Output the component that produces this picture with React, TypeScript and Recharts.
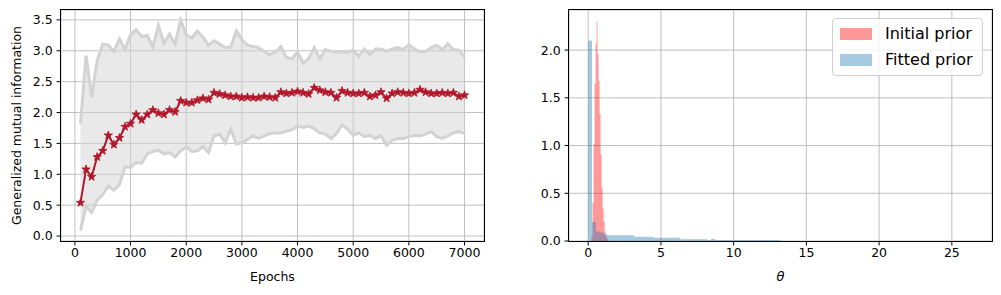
import React from 'react';
import { ComposedChart, Line, Area, XAxis, YAxis, CartesianGrid } from 'recharts';

// left panel: generalized mutual information over training
const epochs = [
  100, 200, 300, 400, 500, 600, 700, 800, 900, 1000,
  1100, 1200, 1300, 1400, 1500, 1600, 1700, 1800, 1900, 2000,
  2100, 2200, 2300, 2400, 2500, 2600, 2700, 2800, 2900, 3000,
  3100, 3200, 3300, 3400, 3500, 3600, 3700, 3800, 3900, 4000,
  4100, 4200, 4300, 4400, 4500, 4600, 4700, 4800, 4900, 5000,
  5100, 5200, 5300, 5400, 5500, 5600, 5700, 5800, 5900, 6000,
  6100, 6200, 6300, 6400, 6500, 6600, 6700, 6800, 6900, 7000,
];
const meanMI = [
  0.54, 1.08, 0.96, 1.28, 1.38, 1.63, 1.48, 1.59, 1.77, 1.82,
  1.97, 1.88, 1.97, 2.04, 1.99, 1.97, 2.04, 2.01, 2.19, 2.16,
  2.16, 2.2, 2.23, 2.21, 2.32, 2.3, 2.28, 2.26, 2.26, 2.24,
  2.25, 2.24, 2.24, 2.26, 2.25, 2.24, 2.33, 2.31, 2.32, 2.34,
  2.32, 2.3, 2.4, 2.36, 2.33, 2.32, 2.24, 2.35, 2.32, 2.31,
  2.31, 2.32, 2.26, 2.28, 2.33, 2.23, 2.31, 2.33, 2.32, 2.31,
  2.32, 2.37, 2.33, 2.31, 2.31, 2.32, 2.31, 2.32, 2.26, 2.28,
];
const upperMI = [
  1.82, 2.92, 2.25, 2.84, 3.11, 3.09, 2.99, 3.19, 3.02, 3.26,
  3.34, 3.23, 3.25, 3.06, 3.41, 3.12, 3.27, 3.11, 3.5, 3.26,
  3.21, 3.32, 3.22, 3.09, 3.16, 3.11, 3.05, 3.06, 3.32, 3.18,
  3.09, 3.07, 3.05, 2.99, 2.94, 2.98, 3.07, 2.89, 2.87, 2.98,
  2.8, 2.87, 3.05, 2.87, 3.02, 2.99, 2.98, 2.98, 2.98, 3.01,
  2.91, 3.03, 2.94, 3.03, 3.03, 2.99, 3.03, 3.05, 3.02, 3.1,
  3.03, 2.98, 2.99, 3.05, 3.09, 3.02, 3.11, 3.02, 3.01, 2.9,
];
const lowerMI = [
  0.09, 0.48, 0.38, 0.58, 0.67, 0.81, 0.74, 0.83, 1.12, 1.11,
  1.19, 1.18, 1.33, 1.37, 1.39, 1.33, 1.35, 1.28, 1.38, 1.44,
  1.37, 1.38, 1.45, 1.35, 1.62, 1.65, 1.51, 1.73, 1.49, 1.51,
  1.56, 1.62, 1.58, 1.62, 1.66, 1.67, 1.67, 1.7, 1.72, 1.78,
  1.76, 1.78, 1.74, 1.67, 1.65, 1.58, 1.66, 1.8, 1.73, 1.63,
  1.67, 1.61, 1.63, 1.58, 1.62, 1.47, 1.55, 1.58, 1.58, 1.61,
  1.63, 1.62, 1.65, 1.69, 1.61, 1.58, 1.62, 1.67, 1.69, 1.66,
];
const epochTicks = [0, 1000, 2000, 3000, 4000, 5000, 6000, 7000];
const miTicks = [0, 0.5, 1, 1.5, 2, 2.5, 3, 3.5];

// right panel: histograms (bin edges + densities)
const initialEdges = [0.23, 0.3, 0.37, 0.44, 0.51, 0.58, 0.64, 0.71, 0.78, 0.85, 0.92, 0.99, 1.06, 1.13, 1.2, 1.27, 1.34, 1.41];
const initialHeights = [0.05, 0.4, 1.01, 1.65, 2.07, 2.3, 1.96, 1.68, 1.33, 0.9, 0.55, 0.34, 0.2, 0.1, 0.05, 0.03, 0.01];
const fittedEdges = [0, 0.264, 0.528, 0.792, 1.056, 1.32, 3.168, 4.488, 6.336, 8.184, 8.448, 8.712, 13.2];
const fittedHeights = [2.1, 0.2, 0.1, 0.09, 0.07, 0.06, 0.045, 0.034, 0.019, 0.011, 0.02, 0.011];
const thetaTicks = [0, 5, 10, 15, 20, 25];
const densityTicks = [0, 0.5, 1, 1.5, 2];
const seriesNames = ['Initial prior', 'Fitted prior'];

const FONT = '"DejaVu Sans", sans-serif';
const RED = '#b2182b';

const miRows = epochs.map((epoch, i) => ({
  epoch,
  mean: meanMI[i],
  upper: upperMI[i],
  lower: lowerMI[i],
  band: [lowerMI[i], upperMI[i]],
}));

const stepValue = (edges: number[], heights: number[], x: number) => {
  for (let i = 0; i < heights.length; i++) {
    if (x >= edges[i] && x < edges[i + 1]) return heights[i];
  }
  return 0;
};

const allEdges = Array.from(new Set([...initialEdges, ...fittedEdges])).sort((a, b) => a - b);
const histRows = allEdges.map((theta) => ({
  theta,
  initial: stepValue(initialEdges, initialHeights, theta),
  fitted: stepValue(fittedEdges, fittedHeights, theta),
}));

const tickStyle = { fill: '#000', fontSize: 12.5, fontFamily: FONT };

const Star = (props: any) => {
  const { cx, cy, index } = props;
  if (cx == null || cy == null) return null;
  const pts: string[] = [];
  for (let k = 0; k < 10; k++) {
    const r = k % 2 === 0 ? 4.4 : 1.8;
    const a = -Math.PI / 2 + (k * Math.PI) / 5;
    pts.push(`${cx + r * Math.cos(a)},${cy + r * Math.sin(a)}`);
  }
  return <polygon key={`star-${index}`} points={pts.join(' ')} fill={RED} stroke={RED} strokeWidth={0.8} />;
};

const Frame = ({ left }: { left: number }) => (
  <div
    style={{
      position: 'absolute',
      left,
      top: 9,
      width: 425,
      height: 233,
      border: '1px solid #000',
      boxSizing: 'border-box',
      pointerEvents: 'none',
    }}
  />
);

export default function App() {
  return (
    <div style={{ position: 'absolute', left: 0, top: 0, width: 1001, height: 295, background: '#fff', fontFamily: FONT }}>
      <div style={{ position: 'absolute', left: 0, top: 0 }}>
        <ComposedChart width={500} height={295} data={miRows} margin={{ top: 10, right: 16, bottom: 0, left: 0 }}>
          <Area dataKey="band" fill="#d3d3d3" fillOpacity={0.5} stroke="none" isAnimationActive={false} />
          <CartesianGrid stroke="#b0b0b0" strokeWidth={0.8} />
          <XAxis
            dataKey="epoch"
            type="number"
            domain={[-250, 7350]}
            ticks={epochTicks}
            allowDataOverflow
            height={54}
            tick={tickStyle}
            tickLine={{ stroke: '#000' }}
            tickSize={4.4}
            tickMargin={3}
            axisLine={false}
            interval={0}
          />
          <YAxis
            type="number"
            domain={[-0.08, 3.66]}
            ticks={miTicks}
            allowDataOverflow
            width={61}
            tick={tickStyle}
            tickLine={{ stroke: '#000' }}
            tickSize={4.4}
            tickMargin={4}
            axisLine={false}
            interval={0}
            tickFormatter={(v: number) => v.toFixed(1)}
          />
          <Line dataKey="upper" stroke="#d3d3d3" strokeWidth={3} dot={false} isAnimationActive={false} />
          <Line dataKey="lower" stroke="#d3d3d3" strokeWidth={3} dot={false} isAnimationActive={false} />
          <Line dataKey="mean" stroke={RED} strokeWidth={2} dot={<Star />} isAnimationActive={false} />
        </ComposedChart>
      </div>
      <Frame left={60} />

      <div style={{ position: 'absolute', left: 501, top: 0 }}>
        <ComposedChart width={500} height={295} data={histRows} margin={{ top: 10, right: 9, bottom: 0, left: 0 }}>
          <Area
            dataKey="initial"
            name={seriesNames[0]}
            type="stepAfter"
            fill="#ff0000"
            fillOpacity={0.4}
            stroke="none"
            isAnimationActive={false}
          />
          <Area
            dataKey="fitted"
            name={seriesNames[1]}
            type="stepAfter"
            fill="#1f77b4"
            fillOpacity={0.4}
            stroke="none"
            isAnimationActive={false}
          />
          <CartesianGrid stroke="#b0b0b0" strokeWidth={0.8} />
          <XAxis
            dataKey="theta"
            type="number"
            domain={[-1.32, 27.76]}
            ticks={thetaTicks}
            allowDataOverflow
            height={54}
            tick={tickStyle}
            tickLine={{ stroke: '#000' }}
            tickSize={4.4}
            tickMargin={3}
            axisLine={false}
            interval={0}
          />
          <YAxis
            type="number"
            domain={[0, 2.42]}
            ticks={densityTicks}
            allowDataOverflow
            width={68}
            tick={tickStyle}
            tickLine={{ stroke: '#000' }}
            tickSize={4.4}
            tickMargin={4}
            axisLine={false}
            interval={0}
            tickFormatter={(v: number) => v.toFixed(1)}
          />
        </ComposedChart>
      </div>
      <Frame left={568} />

      {/* legend */}
      <div
        style={{
          position: 'absolute',
          left: 832,
          top: 18,
          width: 151,
          height: 58,
          boxSizing: 'border-box',
          border: '1px solid #d0d0d0',
          borderRadius: 4,
          background: 'rgba(255,255,255,0.8)',
        }}
      >
        {seriesNames.map((name, i) => (
          <div key={name} style={{ position: 'absolute', left: 7, top: 8 + i * 26, height: 13, display: 'flex', alignItems: 'center' }}>
            <div style={{ width: 32, height: 12, background: i === 0 ? '#ff9999' : '#a5c9e1' }} />
            <span style={{ marginLeft: 13, fontSize: 16, lineHeight: '13px', color: '#000', whiteSpace: 'nowrap' }}>{name}</span>
          </div>
        ))}
      </div>

      {/* axis titles */}
      <svg width={1001} height={295} style={{ position: 'absolute', left: 0, top: 0, pointerEvents: 'none' }}>
        <text
          x={16}
          y={125.5}
          transform="rotate(-90 16 125.5)"
          textAnchor="middle"
          dominantBaseline="central"
          fontSize={12.5}
          fontFamily={FONT}
        >
          Generalized mutual information
        </text>
        <text x={272.5} y={276} textAnchor="middle" dominantBaseline="central" fontSize={12.5} fontFamily={FONT}>
          Epochs
        </text>
        <text x={780.5} y={276} textAnchor="middle" dominantBaseline="central" fontSize={13} fontStyle="italic" fontFamily={FONT}>
          θ
        </text>
      </svg>
    </div>
  );
}
